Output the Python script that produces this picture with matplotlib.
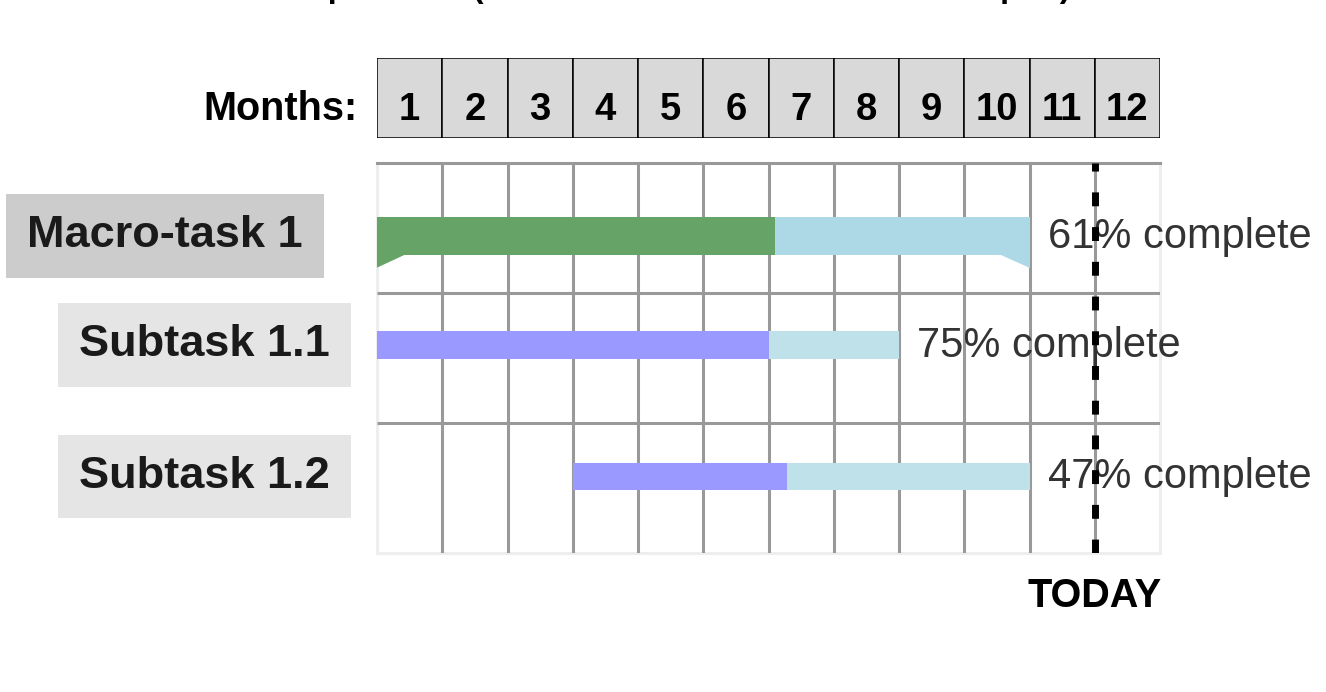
import matplotlib
matplotlib.use('Agg')
import matplotlib.pyplot as plt

plt.rcParams['font.family'] = ['Liberation Sans', 'DejaVu Sans']

# data
tasks = ['Macro-task 1', 'Subtask 1.1', 'Subtask 1.2']
start = [0, 0, 3]
end = [10, 8, 10]
pct_done = [61, 75, 47]
months = list(range(1, 13))
today = 11
title = 'Simple chart (shaded share = work done in the plot)'

# styles
done_col = ['#66a366', '#9999ff', '#9999ff']
left_col = ['#add8e6', '#bfe1ea', '#bfe1ea']
box_col = ['#cccccc', '#e5e5e5', '#e5e5e5']
bar_y = [0.56, 1.40, 2.41]
bar_h = [0.29, 0.21, 0.21]
label_off = [-53.3, -33.8, -33.8]  # points left of the axes
grid_c = '#999999'

fig = plt.figure(figsize=(13.26, 6.92), dpi=100)

# header with month cells
axh = fig.add_axes([377 / 1326, 1 - 138 / 692, 783 / 1326, 80 / 692])
axh.bar([m - 0.5 for m in months], 1, width=1, color='#d9d9d9',
        edgecolor='black', linewidth=1.1)
axh.set_xlim(0, 12)
axh.set_ylim(0, 1)
axh.axis('off')
for m in months:
    axh.text(m - 0.5, 0.23, str(m), ha='center', va='baseline',
             fontsize=27.5, fontweight='bold')
axh.text(-20 / 65.25, 0.23, 'Months:', ha='right', va='baseline',
         fontsize=28.5, fontweight='bold', clip_on=False)

# main gantt area
ax = fig.add_axes([377 / 1326, 1 - 553 / 692, 783 / 1326, 390 / 692])
ax.set_xlim(0, 12)
ax.set_ylim(3, 0)
ax.set_xticks([])
ax.set_yticks([])
for s in ['left', 'right', 'bottom']:
    ax.spines[s].set_color('#eeeeee')
    ax.spines[s].set_linewidth(2.2)
    ax.spines[s].set_zorder(0.5)
ax.spines['top'].set_color(grid_c)
ax.spines['top'].set_linewidth(2.2)
ax.vlines(range(1, 12), 0, 3, color=grid_c, lw=2.2, zorder=1)
ax.hlines([1, 2], 0, 12, color=grid_c, lw=2.2, zorder=1)

for i, t in enumerate(tasks):
    s, e, p = start[i], end[i], pct_done[i]
    mid = s + (e - s) * p / 100
    y, h = bar_y[i], bar_h[i]
    ax.barh(y, mid - s, left=s, height=h, color=done_col[i], zorder=2)
    ax.barh(y, e - mid, left=mid, height=h, color=left_col[i], zorder=2)
    if i == 0:
        # little end tabs of the macro-task bar
        w = 0.43
        ax.fill([s, s + w, s], [y + h / 2, y + h / 2, y + h / 2 + 0.1],
                color=done_col[i], lw=0, zorder=2)
        ax.fill([e - w, e, e], [y + h / 2, y + h / 2, y + h / 2 + 0.1],
                color=left_col[i], lw=0, zorder=2)
    ax.annotate('%d%% complete' % p, xy=(e, y), xytext=(13, -8.6),
                textcoords='offset points', ha='left', va='baseline',
                fontsize=30, color='#333333', zorder=3, annotation_clip=False)
    ax.annotate(t, xy=(0, y), xycoords=('axes fraction', 'data'),
                xytext=(label_off[i], 0), textcoords='offset points',
                ha='right', va='center', fontsize=32.5, fontweight='bold',
                color='#1a1a1a', annotation_clip=False,
                bbox=dict(boxstyle='square,pad=0.47', fc=box_col[i], ec='none'))

ax.axvline(today, color='black', lw=5, linestyle=(0, (2, 3)), zorder=4)
ax.annotate('TODAY', xy=(today, 0), xycoords=('data', 'axes fraction'),
            xytext=(0, -39), textcoords='offset points', ha='center',
            va='baseline', fontsize=28.5, fontweight='bold',
            annotation_clip=False)

# title sits mostly above the top edge, as in the original
fig.text(268 / 1326, 1 + 3 / 692, title, ha='left', va='baseline',
         fontsize=23.5, fontweight='bold')

fig.savefig('out.png', dpi=100)
